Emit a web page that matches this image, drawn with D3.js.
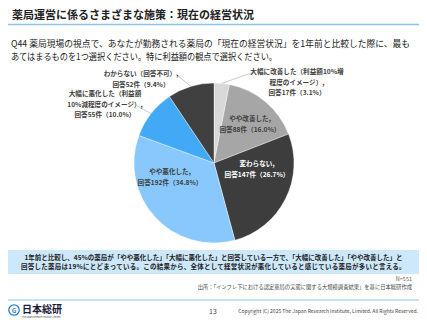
<!DOCTYPE html>
<html><head><meta charset="utf-8">
<script src="https://cdn.jsdelivr.net/npm/d3@7"></script>
<style>
html,body{margin:0;padding:0;background:#fff;}
svg{display:block;font-family:"Noto Sans CJK JP","Noto Sans",sans-serif;}
</style></head><body>
<svg id="c" width="427" height="320"></svg>
<script>
const categories = ["大幅に改善した（利益額10%増程度のイメージ）","やや改善した","変わらない","やや悪化した","大幅に悪化した（利益額10%減程度のイメージ）","わからない（回答不可）"];
const counts = [17, 88, 147, 192, 55, 52];
const percents = [3.1, 16.0, 26.7, 34.8, 10.0, 9.4];
const colors = ["#d9d9d9","#a6a6a6","#3d3d3d","#88c8fc","#42a9f6","#404040"];
const labelLines = [
  ["大幅に改善した（利益額10%増","程度のイメージ）,","回答17件（3.1%）"],
  ["やや改善した,","回答88件（16.0%）"],
  ["変わらない,","回答147件（26.7%）"],
  ["やや悪化した,","回答192件（34.8%）"],
  ["大幅に悪化した（利益額","10%減程度のイメージ）,","回答55件（10.0%）"],
  ["わからない（回答不可）,","回答52件（9.4%）"]
];

const svg = d3.select("#c");

// Title
svg.append("text").attr("x",12).attr("y",19).attr("font-size",11).attr("font-weight","bold").attr("fill","#222")
  .text("薬局運営に係るさまざまな施策：現在の経営状況");
svg.append("line").attr("x1",8).attr("x2",419).attr("y1",24.5).attr("y2",24.5).attr("stroke","#8cc4ea").attr("stroke-width",1.5);

// Question
const q = ["Q44 薬局現場の視点で、あなたが勤務される薬局の「現在の経営状況」を1年前と比較した際に、最も","あてはまるものを1つ選択ください。特に利益額の観点で選択ください。"];
const qLen = [399, 266];
q.forEach((t,i)=>svg.append("text").attr("x",11).attr("y",47+i*12.5).attr("font-size",9).attr("fill","#222")
  .attr("textLength",qLen[i]).attr("lengthAdjust","spacingAndGlyphs").text(t));

// Pie
const cx = 214, cy = 163, R = 80;
const pie = d3.pie().sort(null).value(d=>d)(percents);
const arc = d3.arc().innerRadius(0).outerRadius(R);
const g = svg.append("g").attr("transform",`translate(${cx},${cy})`);
g.selectAll("path").data(pie).join("path").attr("d",arc).attr("fill",(d,i)=>colors[i]).attr("stroke","#fff").attr("stroke-width",0.4);

const outer = d3.arc().innerRadius(R).outerRadius(R);
const fs = 6.6, lh = 10.5;
const labelPos = [
  {x:297, y:74, out:true, lx:254, ly:72},
  {x:250, y:121},
  {x:257, y:166, color:"#fff"},
  {x:170, y:174},
  {x:105, y:96, out:true, lx:137, ly:106},
  {x:141, y:76, out:true, lx:176, ly:74}
];
pie.forEach((d,i)=>{
  const p = labelPos[i];
  if(p.out){
    const o = outer.centroid(d);
    svg.append("line").attr("x1",p.lx).attr("y1",p.ly).attr("x2",cx+o[0]).attr("y2",cy+o[1])
      .attr("stroke","#a6a6a6").attr("stroke-width",0.6);
  }
  const t = svg.append("text").attr("text-anchor","middle").attr("font-size",fs).attr("font-weight","bold").attr("fill",p.color||"#404040");
  labelLines[i].forEach((s,j)=>t.append("tspan").attr("x",p.x).attr("y",p.y+j*lh).text(s));
});

// Summary box
svg.append("rect").attr("x",8).attr("y",250).attr("width",411).attr("height",24).attr("fill","#cde8fb");
const sum = ["1年前と比較し、45%の薬局が「やや悪化した」「大幅に悪化した」と回答している一方で、「大幅に改善した」「やや改善した」と","回答した薬局は19%にとどまっている。この結果から、全体として経営状況が悪化していると感じている薬局が多いと言える。"];
const sSp = [0, 0.25];
sum.forEach((t,i)=>svg.append("text").attr("x",213.5).attr("y",259.5+i*9.5).attr("text-anchor","middle").attr("font-size",6.5).attr("font-weight","bold").attr("fill","#222").attr("letter-spacing",sSp[i]).text(t));

svg.append("text").attr("x",412).attr("y",281).attr("text-anchor","end").attr("font-size",5.5).attr("fill","#666").text("N=551");
svg.append("text").attr("x",412).attr("y",288.5).attr("text-anchor","end").attr("font-size",5.3).attr("fill","#444").text("出所：「インフレ下における認定薬局の実態に関する大規模調査結果」を基に日本総研作成");

// Footer
svg.append("line").attr("x1",8).attr("x2",419).attr("y1",300).attr("y2",300).attr("stroke","#8cc4ea").attr("stroke-width",1);
svg.append("circle").attr("cx",14).attr("cy",310).attr("r",5.2).attr("fill","#fff").attr("stroke","#2e7fc4").attr("stroke-width",1.3);
svg.append("text").attr("x",14).attr("y",312.5).attr("text-anchor","middle").attr("font-size",6.5).attr("font-weight","bold").attr("fill","#2e7fc4").text("G");
svg.append("text").attr("x",22).attr("y",313).attr("font-size",10).attr("font-weight","bold").attr("fill","#1a1a3a").text("日本総研");
svg.append("text").attr("x",22).attr("y",317.5).attr("font-size",2.2).attr("fill","#444").text("The Japan Research Institute, Limited");
svg.append("text").attr("x",213).attr("y",314).attr("text-anchor","middle").attr("font-size",7).attr("fill","#444").text("13");
svg.append("text").attr("x",418).attr("y",313).attr("text-anchor","end").attr("font-size",5).attr("fill","#444").text("Copyright (C) 2025 The Japan Research Institute, Limited. All Rights Reserved.");
</script>
</body></html>
